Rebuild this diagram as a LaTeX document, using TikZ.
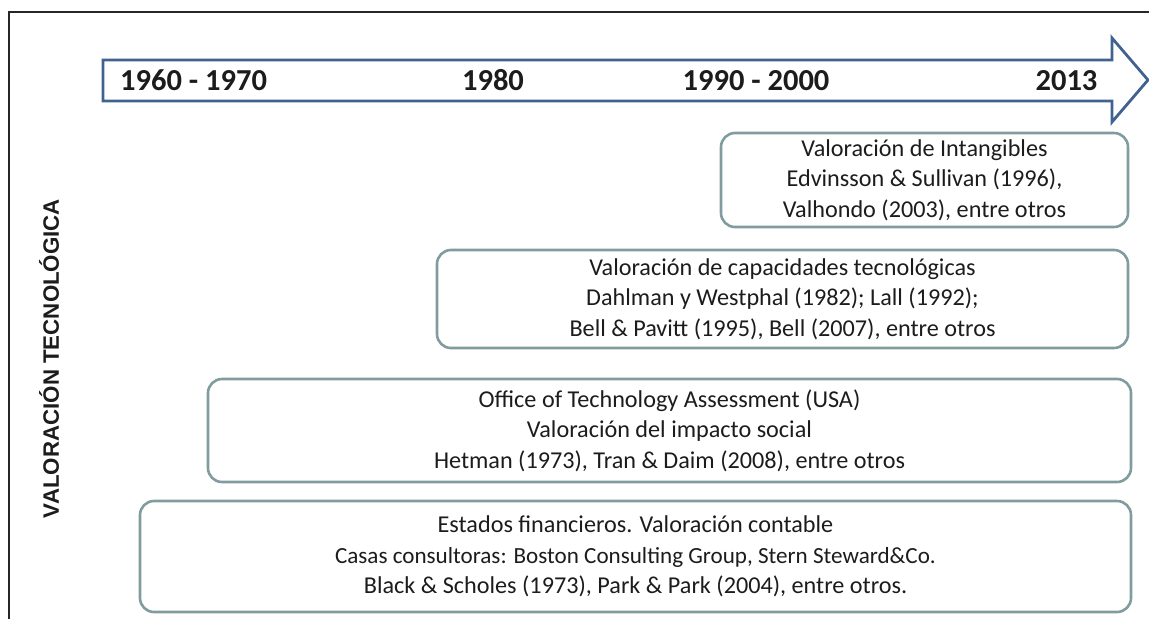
\documentclass[tikz,border=0pt]{standalone}
\usepackage{fontspec}
\setmainfont{Carlito}
\newfontfamily\sidefont{Liberation Sans}
\usepackage{tikz}
\usetikzlibrary{positioning}
\definecolor{arrowblue}{HTML}{41628F}
\definecolor{boxteal}{HTML}{809C9F}
\definecolor{textdark}{HTML}{1C1C1C}
\tikzset{
  frameline/.style={line width=1.4pt,black!85},
  timearrow/.style={line width=2.8pt,arrowblue,line join=miter},
  yearlabel/.style={anchor=base,inner sep=0pt,text=textdark,font=\bfseries\fontsize{30.5}{32}\selectfont},
  eraBox/.style={draw=boxteal,line width=2.6pt,rounded corners=14pt,inner sep=0pt,
    align=center,text=textdark,font=\fontsize{24.2}{30.6}\selectfont},
  sidelabel/.style={rotate=90,inner sep=0pt,text=textdark,font=\sidefont\bfseries\fontsize{22.3}{24}\selectfont}
}

\begin{document}
\begin{tikzpicture}[x=1pt, y=-1pt]
  \useasboundingbox (0,0) rectangle (1149,619);
  \draw[frameline] (9,619) -- (9,12) -- (1149,12);
  \draw[timearrow] (103,60) -- (1112,60) -- (1112,38) -- (1148,80) -- (1112,122) -- (1112,101) -- (103,101) -- cycle;
  \node[yearlabel,anchor=base west] (y60) at (120,90.5) {1960 - 1970};
  \node[yearlabel] (y80) at (493,90.5) {1980};
  \node[yearlabel] (y90) at (756,90.5) {1990 - 2000};
  \node[yearlabel] (y13) at (1066.5,90.5) {2013};
  \node[sidelabel] (side) at (49,358.5) {VALORACIÓN TECNOLÓGICA};
  \node[eraBox,minimum width=407pt,minimum height=94pt] (intang) at (924.5,180)
    {Valoración de Intangibles\\Edvinsson \& Sullivan (1996),\\Valhondo (2003), entre otros};
  \node[eraBox,minimum width=691pt,minimum height=98pt] (capac) at (782.5,299)
    {Valoración de capacidades tecnológicas\\Dahlman y Westphal (1982); Lall (1992);\\Bell \& Pavitt (1995), Bell (2007), entre otros};
  \node[eraBox,minimum width=923pt,minimum height=103pt] (ota) at (669.5,430.5)
    {Office of Technology Assessment (USA)\\Valoración del impacto social\\Hetman (1973), Tran \& Daim (2008), entre otros};
  \node[eraBox,minimum width=991pt,minimum height=111pt] (finan) at (635.5,556.5)
    {Estados financieros. Valoración contable\\{\fontsize{23.1}{30.6}\selectfont Casas consultoras: Boston Consulting Group, Stern Steward\&Co.}\\Black \& Scholes (1973), Park \& Park (2004), entre otros.};
\end{tikzpicture}
\end{document}
